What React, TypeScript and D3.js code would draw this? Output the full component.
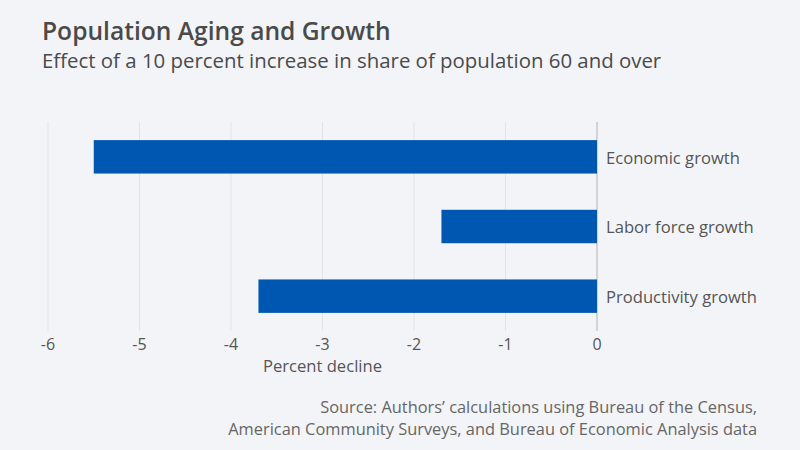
import React from "react";
import * as d3 from "d3";

const categories = ["Economic growth", "Labor force growth", "Productivity growth"];
const values = [-5.5, -1.7, -3.7];
const xTicks = [-6, -5, -4, -3, -2, -1, 0];
const title = "Population Aging and Growth";
const subtitle = "Effect of a 10 percent increase in share of population 60 and over";
const xLabel = "Percent decline";
const sourceLines = [
  "Source: Authors\u2019 calculations using Bureau of the Census,",
  "American Community Surveys, and Bureau of Economic Analysis data",
];

const W = 800, H = 450;
const FONT = "'Open Sans', Lato, sans-serif";

export default function App() {
  const x = d3.scaleLinear().domain([-6, 0]).range([48, 597]);
  const y = d3.scaleBand<string>().domain(categories).range([122, 331]).paddingInner(0.52).paddingOuter(0.26);
  return (
    <svg width={W} height={H} style={{ position: "absolute", left: 0, top: 0, background: "#f3f4f8" }}>
      <rect width={W} height={H} fill="#f3f4f8" />
      <text x={42} y={40} fontFamily={FONT} fontWeight={600} fontSize={24.6} fill="#4a4a4a">{title}</text>
      <text x={42} y={68} fontFamily={FONT} fontSize={20.4} fill="#4a4a4a">{subtitle}</text>
      {xTicks.map((t) => (
        <g key={t}>
          <line x1={x(t)} x2={x(t)} y1={122} y2={331} stroke={t === 0 ? "#c9c9cc" : "#e2e3e8"} strokeWidth={t === 0 ? 1.5 : 1} />
          <text x={x(t)} y={350} textAnchor="middle" fontFamily={FONT} fontSize={16} fill="#555">{t}</text>
        </g>
      ))}
      {categories.map((c, i) => (
        <g key={c}>
          <rect x={x(values[i])} y={y(c)} width={x(0) - x(values[i])} height={y.bandwidth()} fill="#0057b1" />
          <text x={606} y={(y(c) as number) + y.bandwidth() / 2 + 1} dy="0.35em" fontFamily={FONT} fontSize={16.6} fill="#555">{c}</text>
        </g>
      ))}
      <text x={x(-3)} y={372} textAnchor="middle" fontFamily={FONT} fontSize={16.6} fill="#555">{xLabel}</text>
      {sourceLines.map((s, i) => (
        <text key={i} x={757} y={413 + i * 21.5} textAnchor="end" fontFamily={FONT} fontSize={16.4} fill="#666">{s}</text>
      ))}
    </svg>
  );
}
